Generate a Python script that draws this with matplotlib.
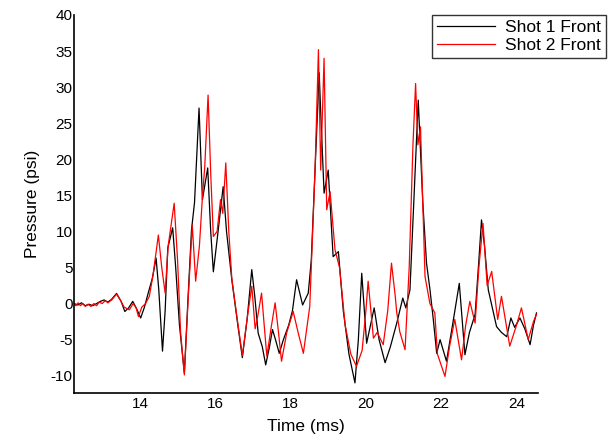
import matplotlib
matplotlib.use("Agg")
import matplotlib.pyplot as plt

plt.rcParams["font.family"] = ["Liberation Sans", "DejaVu Sans"]
plt.rcParams["axes.unicode_minus"] = False

# ── Data (time in ms, pressure in psi) ───────────────────────────────────────
shot1_t = [12.25, 12.35, 12.45, 12.55, 12.65, 12.75, 12.85, 12.95, 13.05, 13.15,
           13.25, 13.38, 13.50, 13.60, 13.70, 13.81, 13.92, 14.02, 14.12, 14.22,
           14.33, 14.43, 14.50, 14.60, 14.67, 14.74, 14.87, 14.95, 15.05, 15.18,
           15.28, 15.37, 15.45, 15.57, 15.66, 15.80, 15.88, 15.95, 16.06, 16.21,
           16.30, 16.44, 16.60, 16.72, 16.85, 16.97, 17.05, 17.14, 17.25, 17.34,
           17.44, 17.52, 17.60, 17.70, 17.81, 17.95, 18.05, 18.16, 18.32, 18.47,
           18.55, 18.65, 18.76, 18.80, 18.89, 19.00, 19.13, 19.27, 19.40, 19.55,
           19.71, 19.80, 19.89, 20.02, 20.22, 20.35, 20.51, 20.65, 20.82, 20.98,
           21.06, 21.17, 21.28, 21.39, 21.51, 21.61, 21.70, 21.79, 21.88, 21.97,
           22.14, 22.30, 22.48, 22.63, 22.75, 22.90, 23.00, 23.07, 23.15, 23.25,
           23.47, 23.60, 23.74, 23.85, 23.95, 24.09, 24.22, 24.36, 24.45, 24.53]
shot1_p = [0.0, -0.2, 0.1, -0.3, -0.1, -0.3, 0.0, 0.3, 0.5, 0.2,
           0.6, 1.4, 0.3, -1.1, -0.6, 0.3, -0.8, -2.0, -0.5, 1.45,
           3.5, 6.3, 2.0, -6.6, -1.0, 7.7, 10.5, 5.0, -3.0, -9.6,
           1.0, 10.2, 14.0, 27.1, 14.4, 18.8, 10.0, 4.4, 9.3, 16.2,
           10.0, 3.3, -3.0, -7.5, -2.0, 4.7, 1.0, -4.1, -6.0, -8.5,
           -6.0, -3.6, -5.0, -6.9, -5.0, -3.0, -1.0, 3.3, -0.2, 1.45,
           6.0, 18.5, 32.0, 26.6, 15.3, 18.5, 6.5, 7.2, -1.0, -7.0,
           -11.0, -5.0, 4.2, -5.5, -0.6, -5.0, -8.2, -6.0, -2.7, 0.76,
           -0.6, 1.9, 15.0, 28.2, 14.1, 5.6, 2.0, -2.2, -6.9, -5.0,
           -8.0, -3.0, 2.8, -7.1, -4.0, -1.5, 6.0, 11.6, 8.0, 1.9,
           -3.2, -4.0, -4.6, -2.0, -3.3, -2.0, -3.5, -5.7, -3.0, -1.3]

shot2_t = [12.25, 12.30, 12.36, 12.42, 12.48, 12.55, 12.62, 12.70, 12.78, 12.85,
           12.92, 13.00, 13.08, 13.15, 13.25, 13.38, 13.48, 13.58, 13.72, 13.82,
           13.90, 13.96, 14.05, 14.15, 14.25, 14.35, 14.49, 14.58, 14.67, 14.75,
           14.91, 15.00, 15.08, 15.18, 15.28, 15.39, 15.48, 15.58, 15.66, 15.72,
           15.81, 15.88, 15.95, 16.05, 16.14, 16.20, 16.28, 16.36, 16.44, 16.58,
           16.72, 16.85, 16.97, 17.06, 17.12, 17.23, 17.30, 17.37, 17.48, 17.59,
           17.68, 17.76, 17.90, 18.07, 18.20, 18.34, 18.51, 18.65, 18.74, 18.80,
           18.89, 18.96, 19.05, 19.18, 19.30, 19.45, 19.60, 19.75, 19.90, 20.00,
           20.06, 20.20, 20.30, 20.46, 20.58, 20.68, 20.78, 20.82, 20.90, 21.04,
           21.15, 21.25, 21.32, 21.38, 21.45, 21.57, 21.70, 21.83, 21.90, 22.10,
           22.22, 22.36, 22.54, 22.65, 22.76, 22.90, 23.00, 23.11, 23.22, 23.34,
           23.50, 23.60, 23.82, 24.00, 24.13, 24.31, 24.45, 24.53]
shot2_p = [0.0, -0.3, 0.1, -0.3, 0.0, -0.4, -0.1, -0.4, 0.0, -0.3,
           0.2, 0.0, 0.4, 0.1, 0.5, 1.3, 0.5, -0.5, -0.86, 0.0,
           -0.6, -1.8, -0.5, 0.0, 1.0, 4.0, 9.5, 5.0, 1.45, 8.0,
           13.9, 6.0, -4.0, -9.9, 0.5, 10.9, 3.1, 8.0, 14.8, 18.8,
           28.9, 18.0, 9.3, 10.0, 14.4, 12.5, 19.5, 10.0, 3.5, -2.0,
           -7.2, -2.0, 2.4, -3.5, -2.0, 1.45, -3.0, -7.3, -3.5, 0.1,
           -4.0, -8.0, -4.0, -1.1, -4.0, -6.9, -0.4, 18.5, 35.2, 18.5,
           34.0, 13.0, 15.5, 7.45, 5.0, -3.0, -7.0, -8.7, -6.5, -1.0,
           3.1, -4.8, -4.0, -5.7, -1.0, 5.6, 1.0, -1.3, -3.9, -6.4,
           5.0, 22.0, 30.5, 22.0, 24.5, 3.75, 0.0, -1.3, -7.0, -10.1,
           -6.0, -2.2, -7.8, -3.0, 0.3, -2.7, 5.0, 11.1, 2.5, 4.45,
           -2.2, 1.0, -5.9, -3.0, -0.6, -5.0, -2.5, -1.5]

x_ticks = [14, 16, 18, 20, 22, 24]
y_ticks = [-10, -5, 0, 5, 10, 15, 20, 25, 30, 35, 40]

# ── Figure ───────────────────────────────────────────────────────────────────
fig = plt.figure(figsize=(6.08, 4.46), dpi=100)
ax = fig.add_axes([74 / 608, 1 - 393 / 446, (538 - 74) / 608, (393 - 15) / 446])

ax.plot(shot1_t, shot1_p, color="black", lw=0.9, label="Shot 1 Front")
ax.plot(shot2_t, shot2_p, color="red", lw=0.9, label="Shot 2 Front")

ax.set_xlim(12.25, 24.57)
ax.set_ylim(-12.4, 40)
ax.set_xticks(x_ticks)
ax.set_yticks(y_ticks)
ax.tick_params(length=0, labelsize=11)
ax.tick_params(axis="x", pad=3)
ax.tick_params(axis="y", pad=1)

for side in ("top", "right"):
    ax.spines[side].set_visible(False)
for side in ("left", "bottom"):
    ax.spines[side].set_linewidth(1.2)

ax.set_xlabel("Time (ms)", fontsize=12.5, labelpad=6)
ax.set_ylabel("Pressure (psi)", fontsize=12.5, labelpad=8)

fig.legend(
    loc="upper right",
    bbox_to_anchor=(606 / 608, 1 - 15 / 446),
    fontsize=12.5,
    fancybox=False,
    edgecolor="#333333",
    framealpha=1,
    borderaxespad=0,
    handlelength=3.3,
    borderpad=0.3,
    labelspacing=0.15,
    handletextpad=0.6,
)

fig.savefig("out.png", dpi=100)
